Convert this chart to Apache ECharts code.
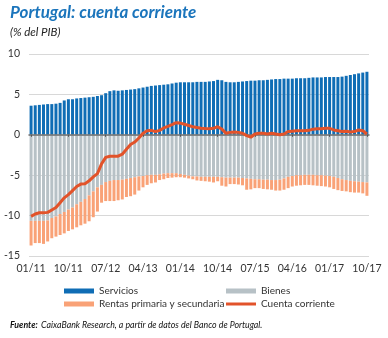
<!DOCTYPE html>
<html>
<head>
<meta charset="utf-8">
<script src="https://cdn.jsdelivr.net/npm/echarts@6/dist/echarts.min.js"></script>
<style>
html,body{margin:0;padding:0;background:#fff;}
#c{width:388px;height:338px;}
</style>
</head>
<body>
<div id="c"></div>
<script>
const categories = [
"01/11","02/11","03/11","04/11","05/11","06/11","07/11","08/11","09/11","10/11","11/11","12/11",
"01/12","02/12","03/12","04/12","05/12","06/12","07/12","08/12","09/12","10/12","11/12","12/12",
"01/13","02/13","03/13","04/13","05/13","06/13","07/13","08/13","09/13","10/13","11/13","12/13",
"01/14","02/14","03/14","04/14","05/14","06/14","07/14","08/14","09/14","10/14","11/14","12/14",
"01/15","02/15","03/15","04/15","05/15","06/15","07/15","08/15","09/15","10/15","11/15","12/15",
"01/16","02/16","03/16","04/16","05/16","06/16","07/16","08/16","09/16","10/16","11/16","12/16",
"01/17","02/17","03/17","04/17","05/17","06/17","07/17","08/17","09/17","10/17"
];
const servicios = [3.6,3.65,3.7,3.75,3.8,3.8,3.85,3.95,4.25,4.4, 4.4,4.5,4.55,4.6,4.65,4.7,4.8,4.9,5.15,5.4, 5.5,5.45,5.5,5.55,5.6,5.65,5.75,5.85,5.95,6.05, 6.1,6.15,6.2,6.25,6.35,6.45,6.5,6.5,6.5,6.5, 6.55,6.55,6.55,6.6,6.65,6.8,6.75,6.55,6.5,6.5, 6.55,6.6,6.65,6.7,6.7,6.75,6.75,6.8,6.85,6.9, 6.9,6.95,6.95,6.95,7.0,7.0,7.0,7.05,7.1,7.1, 7.1,7.15,7.15,7.15,7.15,7.2,7.3,7.4,7.5,7.6, 7.7,7.8];
const bienes = [-10.65,-10.65,-10.65,-10.65,-10.6,-10.3,-10.1,-9.8,-9.55,-9.25, -9.0,-8.6,-8.3,-7.95,-7.5,-7.0,-6.5,-6.2,-5.85,-5.7, -5.6,-5.6,-5.55,-5.45,-5.35,-5.25,-5.15,-5.1,-5.0,-4.95, -4.95,-4.9,-4.8,-4.75,-4.75,-4.75,-4.85,-4.95,-5.05,-5.15, -5.15,-5.2,-5.2,-5.2,-5.2,-5.2,-5.25,-5.3,-5.3,-5.3, -5.3,-5.35,-5.4,-5.45,-5.5,-5.5,-5.55,-5.55,-5.6,-5.6, -5.55,-5.4,-5.2,-5.1,-5.0,-5.0,-4.95,-4.95,-4.95,-5.0, -5.0,-5.05,-5.1,-5.2,-5.35,-5.5,-5.6,-5.7,-5.75,-5.8, -5.85,-5.9];
const rentas = [-3.05,-2.75,-2.75,-2.85,-2.6,-2.5,-2.5,-2.6,-2.65,-2.65, -2.7,-2.85,-2.9,-3.05,-3.2,-3.2,-3.0,-2.2,-2.35,-2.5, -2.6,-2.5,-2.45,-2.25,-2.25,-2.15,-1.75,-1.4,-1.2,-1.05, -0.95,-0.7,-0.7,-0.6,-0.55,-0.5,-0.4,-0.35,-0.35,-0.35, -0.5,-0.5,-0.55,-0.6,-0.7,-0.55,-1.05,-1.1,-0.8,-0.8, -0.85,-0.9,-1.4,-1.3,-1.1,-1.1,-1.15,-1.2,-1.2,-1.3, -1.35,-1.4,-1.4,-1.3,-1.3,-1.25,-1.25,-1.25,-1.3,-1.3, -1.35,-1.35,-1.4,-1.5,-1.5,-1.45,-1.4,-1.4,-1.4,-1.35, -1.4,-1.65];
const cuenta = [-10.1,-9.8,-9.65,-9.65,-9.6,-9.3,-9.0,-8.4,-7.8,-7.4, -6.9,-6.4,-6.1,-6.05,-5.7,-5.2,-4.8,-3.6,-2.8,-2.65, -2.65,-2.65,-2.4,-1.8,-1.2,-0.9,-0.4,0.2,0.5,0.55, 0.4,0.55,0.85,1.05,1.25,1.5,1.45,1.3,1.15,1.0, 0.9,0.82,0.78,0.75,0.8,1.0,0.7,0.2,0.3,0.35, 0.3,0.2,-0.1,-0.3,0.1,0.2,0.2,0.1,0.2,0.1, 0.0,0.1,0.4,0.45,0.5,0.5,0.5,0.55,0.7,0.75, 0.75,0.8,0.8,0.6,0.5,0.4,0.45,0.35,0.4,0.6, 0.5,0.1];
const yTicks = { min: -15, max: 10, interval: 5 };

const FONT = 'Lato';
const chart = echarts.init(document.getElementById('c'), null, { renderer: 'canvas' });
const legendText = { fontFamily: FONT, fontSize: 10, color: '#333', lineHeight: 12 };
function leg(name, left, top, h, icon) {
  return { data: [{ name: name, icon: icon || 'rect' }], left: left, top: top, padding: 0,
    itemWidth: 30, itemHeight: h, textStyle: legendText, selectedMode: false };
}
chart.setOption({
  animation: false,
  backgroundColor: '#fff',
  textStyle: { fontFamily: FONT },
  grid: { left: 29, right: 19, top: 54, bottom: 82, containLabel: false },
  legend: [
    leg('Servicios', 64, 285, 5),
    leg('Bienes', 226, 285, 5),
    leg('Rentas primaria y secundaria', 64, 298, 5),
    leg('Cuenta corriente', 226, 298, 3)
  ],
  xAxis: [
    { type: 'category', data: categories, position: 'bottom',
      axisLine: { show: false, onZero: false }, axisTick: { show: false },
      axisLabel: { interval: 8, color: '#333', fontSize: 10.5, fontFamily: FONT, margin: 7 },
      splitLine: { show: false } },
    { type: 'category', data: categories, position: 'top', z: 10,
      axisLine: { show: true, onZero: true, lineStyle: { color: '#6f6f6f', width: 1.5 } },
      axisTick: { show: true, interval: 8, alignWithLabel: true, length: 2, inside: true, lineStyle: { color: '#555' } },
      axisLabel: { show: false } }
  ],
  yAxis: { type: 'value', min: yTicks.min, max: yTicks.max, interval: yTicks.interval,
    axisLine: { show: false }, axisTick: { show: false },
    axisLabel: { color: '#333', fontSize: 10.5, fontFamily: FONT, margin: 9 },
    splitLine: { lineStyle: { color: '#d8d8d8', width: 1 } } },
  series: [
    { name: 'Servicios', type: 'bar', stack: 'a', data: servicios, barCategoryGap: '28%',
      itemStyle: { color: '#0f6db5' } },
    { name: 'Bienes', type: 'bar', stack: 'a', data: bienes,
      itemStyle: { color: '#b7c1c6' } },
    { name: 'Rentas primaria y secundaria', type: 'bar', stack: 'a', data: rentas,
      itemStyle: { color: '#f9a277' } },
    { name: 'Cuenta corriente', type: 'line', data: cuenta, z: 20, symbol: 'none',
      lineStyle: { color: '#e2532a', width: 3 }, itemStyle: { color: '#e2532a' } }
  ],
  graphic: [
    { type: 'text', left: 10, top: 4, z: 100,
      style: { text: 'Portugal: cuenta corriente', font: 'italic bold 17px Lato', fill: '#1b75bc' } },
    { type: 'text', left: 10, top: 26, z: 100,
      style: { text: '(% del PIB)', font: 'italic 11.5px Lato', fill: '#222' } },
    { type: 'text', left: 10, top: 319, z: 100,
      style: { text: '{b|Fuente:} {n|CaixaBank Research, a partir de datos del Banco de Portugal.}',
        rich: { b: { font: 'italic bold 8.8px Lato', fill: '#111' }, n: { font: 'italic 8.8px Lato', fill: '#111' } } } }
  ]
});
</script>
</body>
</html>
